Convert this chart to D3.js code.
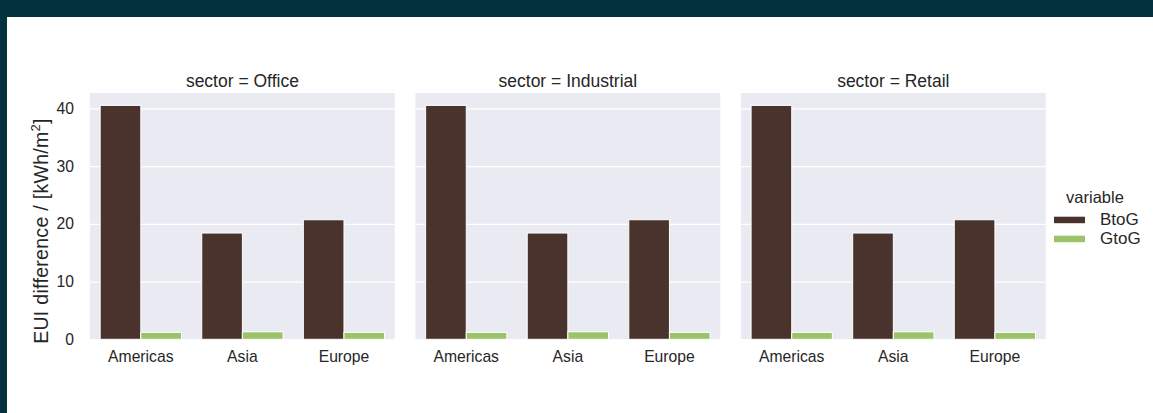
<!DOCTYPE html>
<html>
<head>
<meta charset="utf-8">
<script src="https://cdn.jsdelivr.net/npm/d3@7"></script>
<style>
  html, body { margin: 0; padding: 0; background: #ffffff; }
  svg { display: block; font-family: "Liberation Sans", Arial, sans-serif; }
</style>
</head>
<body>
<svg id="chart" width="1153" height="413"></svg>
<script>
// Facets, categories and series
const sectors = ["Office", "Industrial", "Retail"];
const regions = ["Americas", "Asia", "Europe"];
const variables = ["BtoG", "GtoG"];

// EUI difference per sector, one array per variable (ordered as regions)
const btogOffice = [40.5, 18.4, 20.7];
const gtogOffice = [1.2, 1.3, 1.2];
const btogIndustrial = [40.5, 18.4, 20.7];
const gtogIndustrial = [1.2, 1.3, 1.2];
const btogRetail = [40.5, 18.4, 20.7];
const gtogRetail = [1.2, 1.3, 1.2];

const yTicks = [0, 10, 20, 30, 40];
const colors = ["#4a332d", "#9bc46a"];

const seriesBySector = {
  Office: [btogOffice, gtogOffice],
  Industrial: [btogIndustrial, gtogIndustrial],
  Retail: [btogRetail, gtogRetail]
};

const svg = d3.select("#chart");
const W = 1153, H = 413;
const ink = "#262626";

// frame band along the top and left edges
svg.append("rect").attr("x", 0).attr("y", 0).attr("width", W).attr("height", 17).attr("fill", "#03313e");
svg.append("rect").attr("x", 0).attr("y", 0).attr("width", 7).attr("height", H).attr("fill", "#03313e");

const plotLeft = 90, plotRight = 1045.7, plotTop = 93, plotBottom = 339.3;
const gap = 20.7;
const panelW = (plotRight - plotLeft - 2 * gap) / 3;

const allVals = sectors.flatMap(s => seriesBySector[s].flat());
const yMax = d3.max(allVals) * 1.053;
const y = d3.scaleLinear().domain([0, yMax]).range([plotBottom, plotTop]);

const facetX = d3.scaleOrdinal().domain(sectors)
  .range(sectors.map((s, i) => plotLeft + i * (panelW + gap)));

const x = d3.scaleBand().domain(regions).range([0, panelW]).paddingInner(0.2).paddingOuter(0.1);
const xInner = d3.scaleBand().domain(variables).range([0, x.bandwidth()]).padding(0);

sectors.forEach((sector, si) => {
  const g = svg.append("g").attr("transform", `translate(${facetX(sector)},0)`);

  g.append("rect")
    .attr("x", 0).attr("y", plotTop)
    .attr("width", panelW).attr("height", plotBottom - plotTop)
    .attr("fill", "#eaeaf2");

  // horizontal grid
  g.append("g")
    .attr("class", "grid")
    .call(d3.axisLeft(y).tickValues(yTicks).tickSize(-panelW).tickFormat(""))
    .call(a => a.select(".domain").remove())
    .call(a => a.selectAll("line").attr("stroke", "#ffffff").attr("stroke-width", 1.3));

  // bars
  const data = [];
  variables.forEach((v, vi) => {
    regions.forEach((r, ri) => data.push({ region: r, variable: v, vi, value: seriesBySector[sector][vi][ri] }));
  });
  g.selectAll("rect.bar").data(data).join("rect")
    .attr("class", "bar")
    .attr("x", d => x(d.region) + xInner(d.variable))
    .attr("y", d => y(d.value))
    .attr("width", xInner.bandwidth())
    .attr("height", d => y(0) - y(d.value))
    .attr("fill", d => colors[d.vi])
    .attr("stroke", "#ffffff")
    .attr("stroke-width", 1);

  // category axis
  g.append("g")
    .attr("transform", `translate(0,${plotBottom})`)
    .call(d3.axisBottom(x).tickSize(0).tickPadding(12))
    .call(a => a.select(".domain").remove())
    .call(a => a.selectAll("text").attr("font-size", 15.7).attr("fill", ink).attr("font-family", "Liberation Sans, Arial, sans-serif"));

  // value axis on the first facet only
  if (si === 0) {
    g.append("g")
      .call(d3.axisLeft(y).tickValues(yTicks).tickSize(0).tickPadding(16))
      .call(a => a.select(".domain").remove())
      .call(a => a.selectAll("text").attr("font-size", 15.7).attr("fill", ink).attr("font-family", "Liberation Sans, Arial, sans-serif"));
  }

  g.append("text")
    .attr("x", panelW / 2).attr("y", 87)
    .attr("text-anchor", "middle")
    .attr("font-size", 17.5).attr("fill", ink)
    .text(`sector = ${sector}`);
});

// value axis title
const yTitle = svg.append("text")
  .attr("transform", `translate(48,231) rotate(-90)`)
  .attr("text-anchor", "middle")
  .attr("font-size", 19.5).attr("letter-spacing", 0.3).attr("fill", ink);
yTitle.append("tspan").text("EUI difference / [kWh/m");
yTitle.append("tspan").attr("font-size", 13).attr("dy", -8).text("2");
yTitle.append("tspan").attr("dy", 8).text("]");

// legend
const legend = svg.append("g").attr("transform", "translate(1054,0)");
legend.append("text")
  .attr("x", 41).attr("y", 203)
  .attr("text-anchor", "middle")
  .attr("font-size", 16.5).attr("fill", ink)
  .text("variable");
const legendY = d3.scalePoint().domain(variables).range([219.7, 238.7]);
variables.forEach((v, i) => {
  legend.append("rect")
    .attr("x", 0).attr("y", legendY(v) - 3)
    .attr("width", 31).attr("height", 6.5)
    .attr("fill", colors[i]);
  legend.append("text")
    .attr("x", 46).attr("y", legendY(v) + 5.5)
    .attr("font-size", 17).attr("fill", ink)
    .text(v);
});
</script>
</body>
</html>
